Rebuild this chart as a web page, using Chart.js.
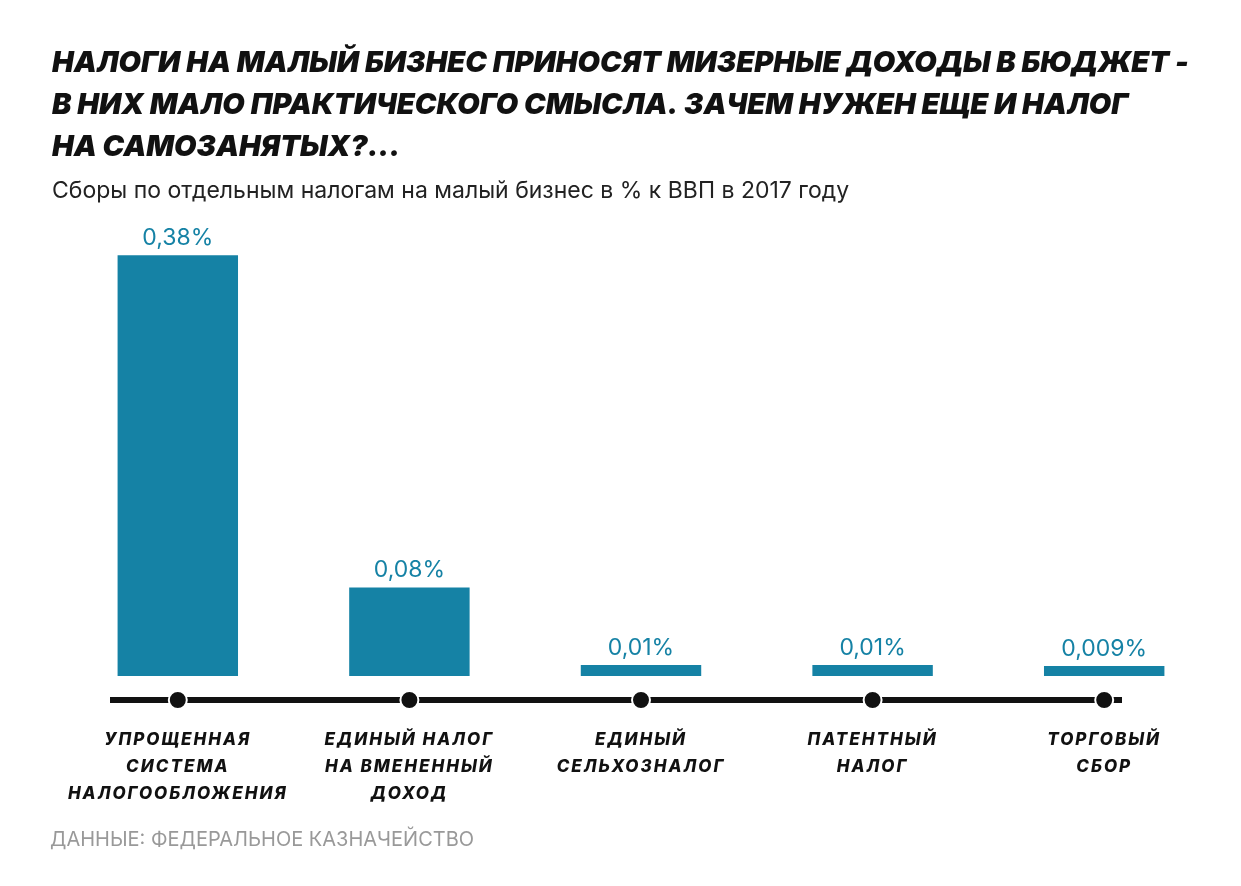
<!DOCTYPE html>
<html><head><meta charset="utf-8">
<script src="https://cdn.jsdelivr.net/npm/chart.js@4"></script>
<style>html,body{margin:0;background:#fff}#w{width:1241px;height:886px}</style>
</head><body><div id="w"><canvas id="c"></canvas></div>
<script>
const titleLines=["НАЛОГИ НА МАЛЫЙ БИЗНЕС ПРИНОСЯТ МИЗЕРНЫЕ ДОХОДЫ В БЮДЖЕТ -","В НИХ МАЛО ПРАКТИЧЕСКОГО СМЫСЛА. ЗАЧЕМ НУЖЕН ЕЩЕ И НАЛОГ","НА САМОЗАНЯТЫХ?..."];
const subtitle="Сборы по отдельным налогам на малый бизнес в % к ВВП в 2017 году";
const source="ДАННЫЕ: ФЕДЕРАЛЬНОЕ КАЗНАЧЕЙСТВО";
const categories=[["УПРОЩЕННАЯ","СИСТЕМА","НАЛОГООБЛОЖЕНИЯ"],["ЕДИНЫЙ НАЛОГ","НА ВМЕНЕННЫЙ","ДОХОД"],["ЕДИНЫЙ","СЕЛЬХОЗНАЛОГ"],["ПАТЕНТНЫЙ","НАЛОГ"],["ТОРГОВЫЙ","СБОР"]];
const values=[0.38,0.08,0.01,0.01,0.009];
const valueLabels=["0,38%","0,08%","0,01%","0,01%","0,009%"];
const blue="#1582a5";
const deco={id:"deco",afterDraw(ch){
 const c=ch.ctx,x=ch.scales.x,y=ch.scales.y;c.save();
 c.fillStyle="#111";c.font="italic 900 29px Inter";c.textBaseline="alphabetic";
 titleLines.forEach((t,i)=>c.fillText(t,52,72+i*42));
 c.font="400 23px Inter";c.fillStyle="#222";c.fillText(subtitle,52,198);
 c.strokeStyle="#111";c.lineWidth=6;c.beginPath();c.moveTo(110,700);c.lineTo(1122,700);c.stroke();
 c.textAlign="center";
 values.forEach((v,i)=>{const px=x.getPixelForValue(i);
  c.fillStyle="#111";c.beginPath();c.arc(px,700,9,0,Math.PI*2);c.fill();
  c.strokeStyle="#fff";c.lineWidth=2;c.stroke();
  c.fillStyle=blue;c.font="400 23px Inter";c.letterSpacing="0px";c.fillText(valueLabels[i],px,y.getPixelForValue(v)-10);
  c.fillStyle="#111";c.font="italic 800 17px Inter";c.letterSpacing="2px";
  categories[i].forEach((l,j)=>c.fillText(l,px,745+j*27));
 });
 c.letterSpacing="0px";c.textAlign="left";c.fillStyle="#999";c.font="400 20px Inter";c.fillText(source,50,846);
 c.restore();}};
new Chart(document.getElementById("c"),{type:"bar",
 data:{labels:categories.map(c=>c.join(" ")),datasets:[{data:values,backgroundColor:blue,barPercentage:0.52,categoryPercentage:1}]},
 options:{responsive:true,maintainAspectRatio:false,animation:false,
  layout:{padding:{left:62,right:21,top:233,bottom:210}},
  plugins:{legend:{display:false},tooltip:{enabled:false}},
  scales:{x:{display:false},y:{display:false,min:0,max:0.4}}},
 plugins:[deco]});
</script></body></html>
